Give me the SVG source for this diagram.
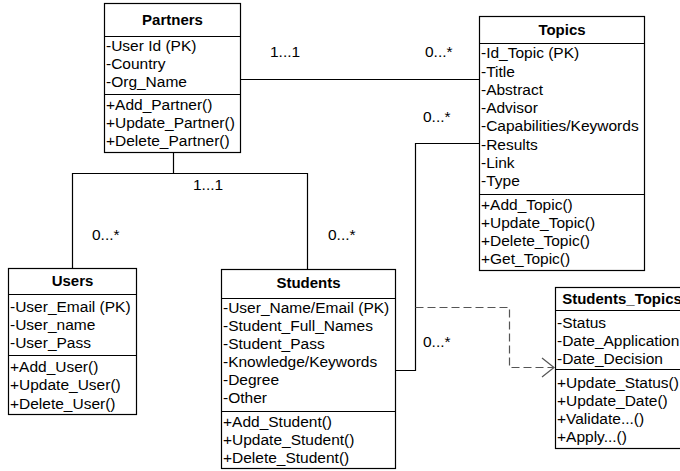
<svg xmlns="http://www.w3.org/2000/svg" width="680" height="471" viewBox="0 0 680 471">
<style>
.box{fill:#fff;stroke:#000;stroke-width:1.2}
.sep{stroke:#000;stroke-width:1.2}
.t{font-family:"Liberation Sans",Arial,sans-serif;font-size:15.5px;fill:#000}
.h{font-family:"Liberation Sans",Arial,sans-serif;font-size:15px;font-weight:bold;fill:#000;text-anchor:middle}
.ln{fill:none;stroke:#000;stroke-width:1.2}
.dash{fill:none;stroke:#555;stroke-width:1.2;stroke-dasharray:8 4}
</style>
<rect width="680" height="471" fill="#fff"/>
<g id="connectors">
<path class="ln" d="M240.5 79.5 H479.5"/>
<path class="ln" d="M173.5 152 V173.5 M72.5 268 V173.5 H307.5 V269"/>
<path class="ln" d="M395 370.5 H415.5 V143.5 H479.5"/>
<path class="dash" d="M415.5 307.5 H509.5 V367.5 H553"/>
<path fill="none" stroke="#555" stroke-width="1.2" d="M542 358 L554 367.5 L542 377"/>
<text class="t" x="270" y="57">1...1</text>
<text class="t" x="425" y="57">0...*</text>
<text class="t" x="423" y="122">0...*</text>
<text class="t" x="193" y="190">1...1</text>
<text class="t" x="92" y="240">0...*</text>
<text class="t" x="328" y="240">0...*</text>
<text class="t" x="423" y="347">0...*</text>
</g>
<g id="partners">
<rect class="box" x="104.5" y="3.5" width="136" height="149"/>
<line class="sep" x1="104.5" y1="36.5" x2="240.5" y2="36.5"/>
<line class="sep" x1="104.5" y1="94.5" x2="240.5" y2="94.5"/>
<text class="h" x="172.5" y="25">Partners</text>
<text class="t" x="106" y="51">-User Id (PK)</text>
<text class="t" x="106" y="69">-Country</text>
<text class="t" x="106" y="87">-Org_Name</text>
<text class="t" x="106" y="110">+Add_Partner()</text>
<text class="t" x="106" y="128">+Update_Partner()</text>
<text class="t" x="106" y="146">+Delete_Partner()</text>
</g>
<g id="topics">
<rect class="box" x="479.5" y="16.5" width="165" height="254"/>
<line class="sep" x1="479.5" y1="43.5" x2="644.5" y2="43.5"/>
<line class="sep" x1="479.5" y1="194.5" x2="644.5" y2="194.5"/>
<text class="h" x="562" y="35">Topics</text>
<text class="t" x="481" y="58">-Id_Topic (PK)</text>
<text class="t" x="481" y="77">-Title</text>
<text class="t" x="481" y="95">-Abstract</text>
<text class="t" x="481" y="113">-Advisor</text>
<text class="t" x="481" y="131">-Capabilities/Keywords</text>
<text class="t" x="481" y="150">-Results</text>
<text class="t" x="481" y="168">-Link</text>
<text class="t" x="481" y="186">-Type</text>
<text class="t" x="481" y="210">+Add_Topic()</text>
<text class="t" x="481" y="228">+Update_Topic()</text>
<text class="t" x="481" y="246">+Delete_Topic()</text>
<text class="t" x="481" y="264">+Get_Topic()</text>
</g>
<g id="users">
<rect class="box" x="8.5" y="268.5" width="128" height="146"/>
<line class="sep" x1="8.5" y1="294.5" x2="136.5" y2="294.5"/>
<line class="sep" x1="8.5" y1="355.5" x2="136.5" y2="355.5"/>
<text class="h" x="72.5" y="286">Users</text>
<text class="t" x="10" y="312">-User_Email (PK)</text>
<text class="t" x="10" y="330">-User_name</text>
<text class="t" x="10" y="348">-User_Pass</text>
<text class="t" x="10" y="372">+Add_User()</text>
<text class="t" x="10" y="390">+Update_User()</text>
<text class="t" x="10" y="409">+Delete_User()</text>
</g>
<g id="students">
<rect class="box" x="221.5" y="269.5" width="174" height="199"/>
<line class="sep" x1="221.5" y1="298.5" x2="395.5" y2="298.5"/>
<line class="sep" x1="221.5" y1="411.5" x2="395.5" y2="411.5"/>
<text class="h" x="308.5" y="288">Students</text>
<text class="t" x="223" y="313">-User_Name/Email (PK)</text>
<text class="t" x="223" y="331">-Student_Full_Names</text>
<text class="t" x="223" y="349">-Student_Pass</text>
<text class="t" x="223" y="367">-Knowledge/Keywords</text>
<text class="t" x="223" y="385">-Degree</text>
<text class="t" x="223" y="403">-Other</text>
<text class="t" x="223" y="427">+Add_Student()</text>
<text class="t" x="223" y="445">+Update_Student()</text>
<text class="t" x="223" y="463">+Delete_Student()</text>
</g>
<g id="students_topics">
<rect class="box" x="555.5" y="287.5" width="134" height="161"/>
<line class="sep" x1="555.5" y1="310.5" x2="689.5" y2="310.5"/>
<line class="sep" x1="555.5" y1="369.5" x2="689.5" y2="369.5"/>
<text class="h" x="622" y="304">Students_Topics</text>
<text class="t" x="557" y="328">-Status</text>
<text class="t" x="557" y="346">-Date_Application</text>
<text class="t" x="557" y="364">-Date_Decision</text>
<text class="t" x="557" y="388">+Update_Status()</text>
<text class="t" x="557" y="406">+Update_Date()</text>
<text class="t" x="557" y="424">+Validate...()</text>
<text class="t" x="557" y="442">+Apply...()</text>
</g>
</svg>
